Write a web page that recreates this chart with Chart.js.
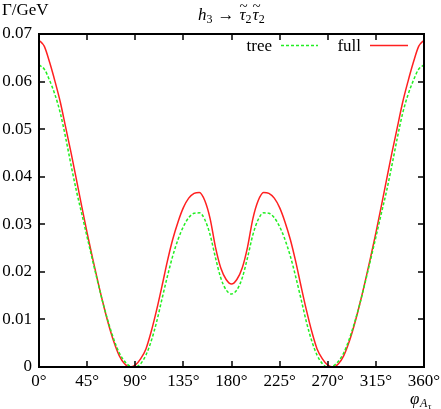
<!DOCTYPE html>
<html>
<head>
<meta charset="utf-8">
<script src="https://cdn.jsdelivr.net/npm/chart.js@4/dist/chart.umd.min.js"></script>
<style>
html, body { margin: 0; padding: 0; background: #fff; }
#wrap { width: 441px; height: 409px; position: relative; }
</style>
</head>
<body>
<div id="wrap"><canvas id="c"></canvas></div>
<script>
var angles = [0,5,10,15,20,25,30,35,40,45,50,55,60,65,70,75,80,85,90,95,100,105,110,115,120,125,130,135,140,145,150,155,160,165,170,175,180,
	185,190,195,200,205,210,215,220,225,230,235,240,245,250,255,260,265,270,275,280,285,290,295,300,305,310,315,320,325,330,335,340,345,350,355,360];

var fullWidth = [0.0687,0.0674,0.0640,0.0600,0.0556,0.0503,0.0450,0.0394,0.0337,0.0282,0.0230,0.0180,0.0133,0.0090,0.0053,0.0024,0.0007,0.0000,0.0004,0.0017,0.0038,0.0075,0.0120,0.0170,0.0222,0.0268,0.0305,0.0335,0.0355,0.0365,0.0367,0.0350,0.0312,0.0252,0.0208,0.0184,0.01745,
	0.0184,0.0208,0.0252,0.0312,0.0350,0.0367,0.0365,0.0355,0.0335,0.0305,0.0268,0.0222,0.0170,0.0120,0.0075,0.0038,0.0017,0.0004,0.0000,0.0007,0.0024,0.0053,0.0090,0.0133,0.0180,0.0230,0.0282,0.0337,0.0394,0.0450,0.0503,0.0556,0.0600,0.0640,0.0674,0.0687];

var treeWidth = [0.0635,0.0626,0.0602,0.0572,0.0533,0.0481,0.0424,0.0370,0.0322,0.0273,0.0225,0.0178,0.0133,0.0093,0.0058,0.0030,0.0012,0.0002,0.0000,0.0007,0.0025,0.0055,0.0095,0.0143,0.0190,0.0233,0.0268,0.0295,0.0314,0.0323,0.0324,0.0310,0.0278,0.0230,0.0187,0.0162,0.01535,
	0.0162,0.0187,0.0230,0.0278,0.0310,0.0324,0.0323,0.0314,0.0295,0.0268,0.0233,0.0190,0.0143,0.0095,0.0055,0.0025,0.0007,0.0000,0.0002,0.0012,0.0030,0.0058,0.0093,0.0133,0.0178,0.0225,0.0273,0.0322,0.0370,0.0424,0.0481,0.0533,0.0572,0.0602,0.0626,0.0635];

var xTicks = [0,45,90,135,180,225,270,315,360];
var yTicks = [0,0.01,0.02,0.03,0.04,0.05,0.06,0.07];

var FONT = '"Liberation Serif", "DejaVu Serif", serif';

function pairs(xs, ys) {
	var out = [];
	for (var i = 0; i < xs.length; i++) out.push({x: xs[i], y: ys[i]});
	return out;
}

// tau with a tilde on top and a subscript, returns the new x
function stau(ctx, x, y, sub) {
	ctx.font = 'italic 17px ' + FONT;
	ctx.textAlign = 'left';
	ctx.fillText('\u03C4', x, y);
	var w = ctx.measureText('\u03C4').width;
	ctx.font = '15px ' + FONT;
	ctx.textAlign = 'center';
	ctx.fillText('~', x + w / 2 + 1, y - 9);
	ctx.textAlign = 'left';
	ctx.font = '12px ' + FONT;
	ctx.fillText(sub, x + w, y + 3);
	return x + w + ctx.measureText(sub).width;
}

// box round the plot with inward ticks on all four sides
function drawFrame(chart) {
	var ctx = chart.ctx;
	var xs = chart.scales.x, ys = chart.scales.y;
	var L = Math.round(xs.getPixelForValue(0)), R = Math.round(xs.getPixelForValue(360));
	var T = Math.round(ys.getPixelForValue(0.07)), B = Math.round(ys.getPixelForValue(0));
	ctx.save();
	ctx.fillStyle = '#000000';
	ctx.fillRect(L - 1, T - 1, R - L + 2, 2);
	ctx.fillRect(L - 1, B - 1, R - L + 2, 2);
	ctx.fillRect(L - 1, T - 1, 2, B - T + 2);
	ctx.fillRect(R - 1, T - 1, 2, B - T + 2);
	for (var i = 0; i < xTicks.length; i++) {
		var px = Math.round(xs.getPixelForValue(xTicks[i]));
		ctx.fillRect(px - 0.75, B - 6, 1.5, 6);
		ctx.fillRect(px - 0.75, T, 1.5, 6);
	}
	for (var j = 0; j < yTicks.length; j++) {
		var py = Math.round(ys.getPixelForValue(yTicks[j]));
		ctx.fillRect(L, py - 0.75, 6, 1.5);
		ctx.fillRect(R - 6, py - 0.75, 6, 1.5);
	}
	ctx.restore();
}

var decor = {
	id: 'decor',
	afterDraw: function(chart) {
		var ctx = chart.ctx;
		drawFrame(chart);
		ctx.save();
		ctx.fillStyle = '#000000';
		ctx.textBaseline = 'alphabetic';

		// y axis name
		ctx.font = '17px ' + FONT;
		ctx.textAlign = 'left';
		ctx.fillText('\u0393/GeV', 2, 15);

		// title
		var tx = 198, ty = 20;
		ctx.font = 'italic 17px ' + FONT;
		ctx.fillText('h', tx, ty); tx += ctx.measureText('h').width;
		ctx.font = '12px ' + FONT;
		ctx.fillText('3', tx, ty + 3); tx += ctx.measureText('3').width + 5;
		ctx.font = '17px ' + FONT;
		ctx.fillText('\u2192', tx, ty); tx += ctx.measureText('\u2192').width + 5;
		tx = stau(ctx, tx, ty, '2');
		stau(ctx, tx + 1, ty, '2');

		// x axis name
		ctx.textAlign = 'left';
		ctx.font = 'italic 17px ' + FONT;
		ctx.fillText('\u03C6', 410, 404);
		ctx.font = 'italic 12px ' + FONT;
		ctx.fillText('A', 420, 407);
		ctx.font = 'italic 9px ' + FONT;
		ctx.fillText('\u03C4', 428, 409);

		// key
		ctx.font = '17px ' + FONT;
		ctx.textAlign = 'right';
		ctx.fillText('tree', 272, 51);
		ctx.fillText('full', 361, 51);
		ctx.lineWidth = 1.5;
		ctx.strokeStyle = '#22ee22';
		ctx.setLineDash([3, 2]);
		ctx.beginPath(); ctx.moveTo(281, 45.5); ctx.lineTo(318, 45.5); ctx.stroke();
		ctx.setLineDash([]);
		ctx.strokeStyle = '#ff2020';
		ctx.beginPath(); ctx.moveTo(370, 45.5); ctx.lineTo(408, 45.5); ctx.stroke();
		ctx.restore();
	}
};

new Chart(document.getElementById('c'), {
	type: 'line',
	data: {
		datasets: [{
			label: 'tree',
			data: pairs(angles, treeWidth),
			borderColor: '#22ee22',
			borderWidth: 1.5,
			borderDash: [3, 2],
			pointRadius: 0,
			cubicInterpolationMode: 'monotone',
			fill: false
		}, {
			label: 'full',
			data: pairs(angles, fullWidth),
			borderColor: '#ff2020',
			borderWidth: 1.5,
			pointRadius: 0,
			cubicInterpolationMode: 'monotone',
			fill: false
		}]
	},
	options: {
		responsive: true,
		maintainAspectRatio: false,
		animation: false,
		layout: { padding: { left: 0, top: 34, right: 0, bottom: 0 } },
		plugins: { legend: { display: false }, title: { display: false }, tooltip: { enabled: false } },
		scales: {
			x: {
				type: 'linear', min: 0, max: 360,
				afterBuildTicks: function(s) { s.ticks = xTicks.map(function(v) { return {value: v}; }); },
				afterFit: function(s) { s.height = 42; s.paddingLeft = 0; s.paddingRight = 17; },
				grid: { display: false, drawTicks: false },
				border: { display: false },
				ticks: {
					padding: 4, color: '#000', maxRotation: 0, autoSkip: false,
					font: { family: FONT, size: 17 },
					callback: function(v) { return v + '\u00B0'; }
				}
			},
			y: {
				type: 'linear', min: 0, max: 0.07,
				afterBuildTicks: function(s) { s.ticks = yTicks.map(function(v) { return {value: v}; }); },
				afterFit: function(s) { s.width = 39; s.paddingTop = 0; s.paddingBottom = 0; },
				grid: { display: false, drawTicks: false },
				border: { display: false },
				ticks: {
					padding: 7, color: '#000', autoSkip: false,
					font: { family: FONT, size: 17 },
					callback: function(v) { return v === 0 ? '0' : v.toFixed(2); }
				}
			}
		}
	},
	plugins: [decor]
});
</script>
</body>
</html>
